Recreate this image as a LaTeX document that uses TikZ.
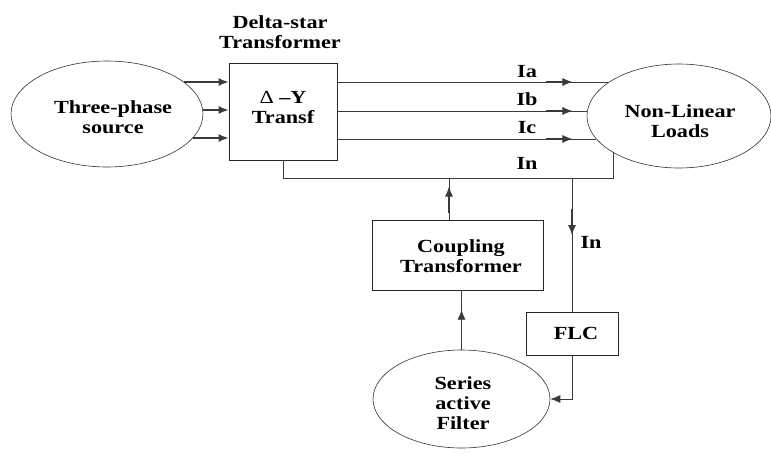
\documentclass[tikz,border=0pt]{standalone}
\usepackage{fontspec}
\setmainfont{Liberation Serif}[FakeStretch=1.2]
\usetikzlibrary{shapes.geometric,arrows.meta,decorations.markings}
\definecolor{wire}{HTML}{3A3A3A}
\tikzset{
  lbl/.style={font=\bfseries\fontsize{18.5}{20}\selectfont, align=center, inner sep=0pt},
  blk/.style={draw=black!85, line width=0.8pt, inner sep=0pt},
  oval/.style={ellipse, draw=black!80, line width=0.6pt, inner sep=0pt},
  conn/.style={draw=wire, line width=0.9pt},
  feed/.style={conn, line width=1.5pt, -{Latex[length=10pt,width=8pt]}},
  tip/.style={-{Latex[length=10pt,width=8pt]}},
  midarrow/.style={postaction={decorate}, decoration={markings,
      mark=at position #1 with {\draw[wire, line width=1.6pt] (-26pt,0) -- (-5pt,0);
                                \arrow{Latex[length=10pt,width=8pt]}}}}
}
\begin{document}
\begin{tikzpicture}[x=1pt,y=-1pt]
\useasboundingbox (0,0) rectangle (771,453);

% main blocks
\node[oval, minimum width=192pt, minimum height=106pt] (src) at (107,114) {};
\node[lbl] at (113,117) {Three-phase\\source};
\node[blk, minimum width=108pt, minimum height=97pt] (dy) at (283,111.5) {};
\node[lbl] (dytxt) at (283,107) {{\mdseries Δ} –Y\\Transf};
\node[lbl] (dytitle) at (280,32) {Delta-star\\Transformer};
\node[oval, minimum width=184pt, minimum height=104pt] (nl) at (679,116) {};
\node[lbl] at (680,121) {Non-Linear\\Loads};
\node[blk, minimum width=171pt, minimum height=70pt] (cpl) at (457.5,255) {};
\node[lbl] at (461,256) {Coupling\\Transformer};
\node[blk, minimum width=92pt, minimum height=43pt] (flc) at (572,333.5) {};
\node[lbl] at (576,333) {FLC};
\node[oval, minimum width=177pt, minimum height=98pt] (saf) at (461.5,399) {};
\node[lbl] at (463,403) {Series\\active\\Filter};

% points where the wires meet the ovals
\coordinate (s1) at (184,82);
\coordinate (s2) at (203,110);
\coordinate (s3) at (193,138);
\coordinate (l1) at (609,82);
\coordinate (l2) at (587,111);
\coordinate (l3) at (596,139);
\coordinate (ln) at (613,152);
\coordinate (nb) at (283,178);
\coordinate (ntap) at (572,178);

% source to transformer
\draw[feed] (s1) -- (dy.west |- s1);
\draw[feed] (s2) -- (dy.west |- s2);
\draw[feed] (s3) -- (dy.west |- s3);

% phase conductors to the loads
\draw[conn, midarrow=235pt] (dy.east |- l1) -- (l1);
\draw[conn, midarrow=235pt] (dy.east |- l2) -- (l2);
\draw[conn, midarrow=235pt] (dy.east |- l3) -- (l3);

% neutral conductor
\draw[conn] (dy.south) -- (nb) -| (ln);

% coupling transformer injection
\draw[conn, midarrow=33pt] ([xshift=-8.5pt]cpl.north) -- ([xshift=-8.5pt]cpl.north |- nb);
% neutral current sensed by the controller
\draw[conn, midarrow=57pt] (ntap) -- (flc.north);
\draw[conn, tip] (flc.south) |- (saf.east);
% filter output to coupling transformer
\draw[conn, midarrow=40pt] (saf.north) -- (saf.north |- cpl.south);

% current labels
\node[lbl] (ia) at (527,72) {Ia};
\node[lbl] (ib) at (527,99) {Ib};
\node[lbl] (ic) at (527,128) {Ic};
\node[lbl] (in1) at (527,163) {In};
\node[lbl] (in2) at (591,242) {In};
\end{tikzpicture}
\end{document}
